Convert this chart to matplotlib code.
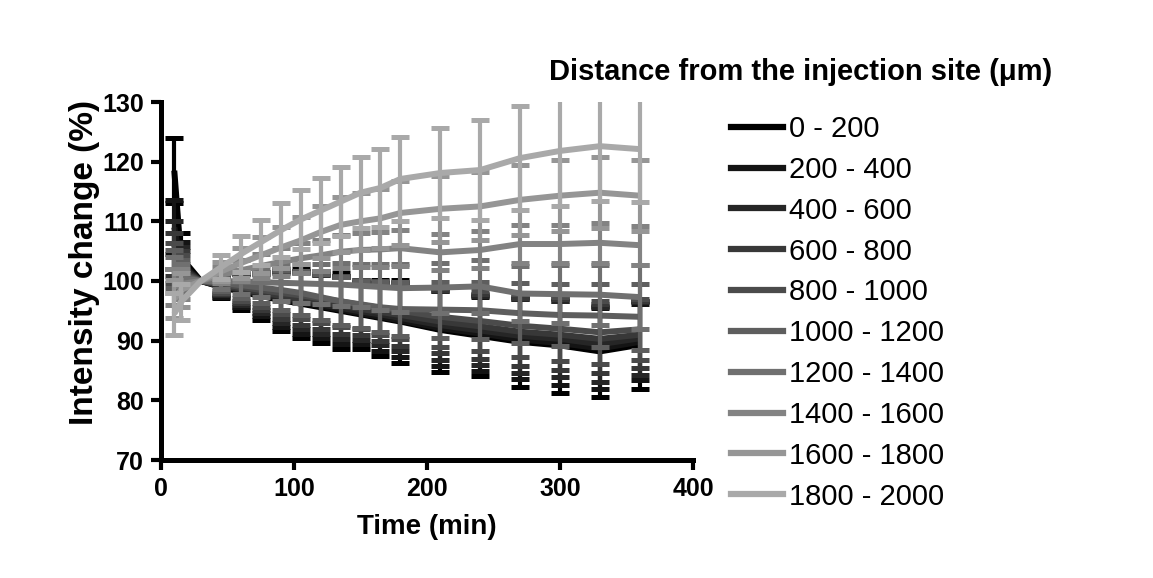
import matplotlib
matplotlib.use("Agg")
import matplotlib.pyplot as plt
from matplotlib.lines import Line2D
import numpy as np

plt.rcParams["font.family"] = ["Liberation Sans", "DejaVu Sans"]

time_min = [10, 15, 30, 45, 60, 75, 90, 105, 120, 135, 150, 165, 180, 210, 240, 270, 300, 330, 360]

labels = ["0 - 200", "200 - 400", "400 - 600", "600 - 800", "800 - 1000",
          "1000 - 1200", "1200 - 1400", "1400 - 1600", "1600 - 1800", "1800 - 2000"]

mean_0_200 = [118.5, 104.0, 100, 99.0, 98.2, 97.5, 96.8, 96.2, 95.6, 95.0, 94.4, 93.8, 93.2, 91.8, 90.8, 89.8, 89.2, 88.2, 89.3]
sem_0_200 = [5.5, 4.0, 0, 1.8, 3.0, 4.0, 5.2, 5.8, 6.0, 6.4, 5.8, 6.4, 7.0, 7.0, 6.8, 7.5, 8.0, 7.6, 7.4]
mean_200_400 = [109.0, 103.0, 100, 99.1, 98.4, 97.7, 97.0, 96.4, 95.8, 95.2, 94.6, 94.0, 93.4, 92.1, 91.2, 90.2, 89.6, 88.7, 89.8]
sem_200_400 = [4.5, 3.5, 0, 1.7, 2.8, 3.6, 4.7, 5.2, 5.4, 5.7, 5.2, 5.7, 6.2, 6.3, 6.2, 6.7, 7.0, 6.8, 6.4]
mean_400_600 = [106.0, 102.5, 100, 99.2, 98.5, 97.9, 97.2, 96.7, 96.1, 95.5, 94.9, 94.4, 93.8, 92.6, 91.7, 90.8, 90.3, 89.4, 90.4]
sem_400_600 = [4.0, 3.2, 0, 1.6, 2.6, 3.3, 4.3, 4.8, 4.9, 5.2, 4.8, 5.2, 5.6, 5.8, 5.8, 6.2, 6.4, 6.3, 6.1]
mean_600_800 = [104.5, 102.0, 100, 99.3, 98.7, 98.1, 97.5, 97.0, 96.5, 95.9, 95.3, 94.8, 94.3, 93.2, 92.4, 91.5, 91.0, 90.3, 91.0]
sem_600_800 = [3.6, 3.0, 0, 1.5, 2.4, 3.0, 3.9, 4.4, 4.5, 4.7, 4.4, 4.8, 5.2, 5.3, 5.4, 5.7, 5.9, 5.8, 5.6]
mean_800_1000 = [103.0, 101.5, 100, 99.5, 99.0, 98.5, 98.0, 97.6, 97.1, 96.6, 96.0, 95.5, 95.0, 94.0, 93.3, 92.5, 92.0, 91.4, 91.9]
sem_800_1000 = [3.4, 2.8, 0, 1.5, 2.3, 2.8, 3.6, 4.0, 4.1, 4.3, 4.1, 4.5, 4.8, 5.0, 5.0, 5.3, 5.4, 5.3, 5.1]
mean_1000_1200 = [102.0, 101.0, 100, 99.7, 99.3, 98.9, 98.5, 98.0, 97.3, 96.6, 96.1, 95.6, 95.3, 95.2, 95.1, 94.6, 94.3, 94.2, 94.0]
sem_1000_1200 = [3.2, 2.6, 0, 1.4, 2.2, 2.6, 3.3, 3.7, 3.8, 4.0, 3.9, 4.2, 4.5, 4.7, 4.8, 5.0, 5.2, 5.3, 5.5]
mean_1200_1400 = [101.0, 100.5, 100, 100.0, 99.9, 99.8, 99.7, 99.6, 99.5, 99.4, 99.2, 99.0, 98.8, 98.9, 99.1, 97.9, 97.8, 97.7, 97.3]
sem_1200_1400 = [3.0, 2.4, 0, 1.3, 2.0, 2.4, 3.0, 3.3, 3.4, 3.6, 3.6, 3.8, 4.0, 4.2, 4.4, 4.6, 4.8, 5.0, 5.3]
mean_1400_1600 = [99.0, 99.5, 100, 101.0, 101.8, 102.5, 103.2, 103.8, 104.3, 104.9, 105.2, 105.3, 105.5, 104.8, 105.2, 106.2, 106.2, 106.4, 106.0]
sem_1400_1600 = [3.0, 2.5, 0, 1.3, 1.8, 2.0, 2.3, 2.5, 2.6, 2.8, 2.8, 2.9, 3.0, 3.0, 3.1, 3.2, 3.2, 3.3, 3.3]
mean_1600_1800 = [97.0, 98.5, 100, 101.6, 103.0, 104.3, 105.6, 106.8, 108.2, 109.4, 110.0, 110.5, 111.4, 112.1, 112.5, 113.6, 114.3, 114.8, 114.3]
sem_1600_1800 = [3.2, 2.8, 0, 1.6, 2.5, 3.0, 3.5, 4.0, 4.3, 4.6, 4.8, 5.0, 5.3, 5.5, 5.7, 5.9, 6.0, 6.0, 6.0]
mean_1800_2000 = [94.5, 96.5, 100, 102.3, 104.5, 106.5, 108.5, 110.3, 111.8, 113.3, 114.8, 115.6, 117.1, 118.1, 118.6, 120.6, 121.8, 122.6, 122.1]
sem_1800_2000 = [3.5, 3.0, 0, 2.0, 3.0, 3.8, 4.5, 5.0, 5.5, 5.8, 6.0, 6.5, 7.0, 7.5, 8.4, 8.7, 9.2, 9.2, 8.9]

means = [mean_0_200, mean_200_400, mean_400_600, mean_600_800, mean_800_1000,
         mean_1000_1200, mean_1200_1400, mean_1400_1600, mean_1600_1800, mean_1800_2000]
sems = [sem_0_200, sem_200_400, sem_400_600, sem_600_800, sem_800_1000,
        sem_1000_1200, sem_1200_1400, sem_1400_1600, sem_1600_1800, sem_1800_2000]

colors = ["#000000", "#141414", "#262626", "#383838", "#4b4b4b",
          "#5e5e5e", "#707070", "#838383", "#969696", "#a9a9a9"]

fig = plt.figure(figsize=(11.53, 5.78), dpi=100)
ax = fig.add_axes([161 / 1153, 1 - 460 / 578, 532 / 1153, 358 / 578])

t = np.array(time_min)
for i, (m, e) in enumerate(zip(means, sems)):
    m = np.array(m)
    e = np.array(e)
    ax.plot(t, m, color=colors[i], lw=4.3, zorder=2 + i, solid_capstyle="butt")
    has_err = e > 0
    ax.errorbar(t[has_err], m[has_err], yerr=e[has_err], fmt="none",
                ecolor=colors[i], elinewidth=3, capsize=6.5, capthick=3.6,
                zorder=2 + i)

ax.set_xlim(0, 400)
ax.set_ylim(70, 130)
ax.set_xticks([0, 100, 200, 300, 400])
ax.set_yticks([70, 80, 90, 100, 110, 120, 130])
for side in ["top", "right"]:
    ax.spines[side].set_visible(False)
for side in ["left", "bottom"]:
    ax.spines[side].set_linewidth(3.6)
ax.tick_params(direction="out", length=7, width=3, labelsize=18, pad=5.5)
for lab in ax.get_xticklabels() + ax.get_yticklabels():
    lab.set_fontweight("bold")

ax.set_xlabel("Time (min)", fontsize=20, fontweight="bold")
ax.set_ylabel("Intensity change (%)", fontsize=24, fontweight="bold")
ax.xaxis.set_label_coords(0.5, -0.15)
ax.yaxis.set_label_coords(-0.115, 0.553)

handles = [Line2D([], [], color=c, lw=4.5) for c in colors]
fig.legend(handles, labels, loc="upper left", bbox_to_anchor=(731 / 1153, 1 - 115 / 578),
           frameon=False, fontsize=21, handlelength=1.8, handletextpad=0.2,
           labelspacing=0.44, borderpad=0, borderaxespad=0)
fig.text(549 / 1153, 1 - 72 / 578, "Distance from the injection site (\u03bcm)",
         fontsize=21, fontweight="bold", va="center", ha="left")

fig.savefig("out.png", dpi=100)
